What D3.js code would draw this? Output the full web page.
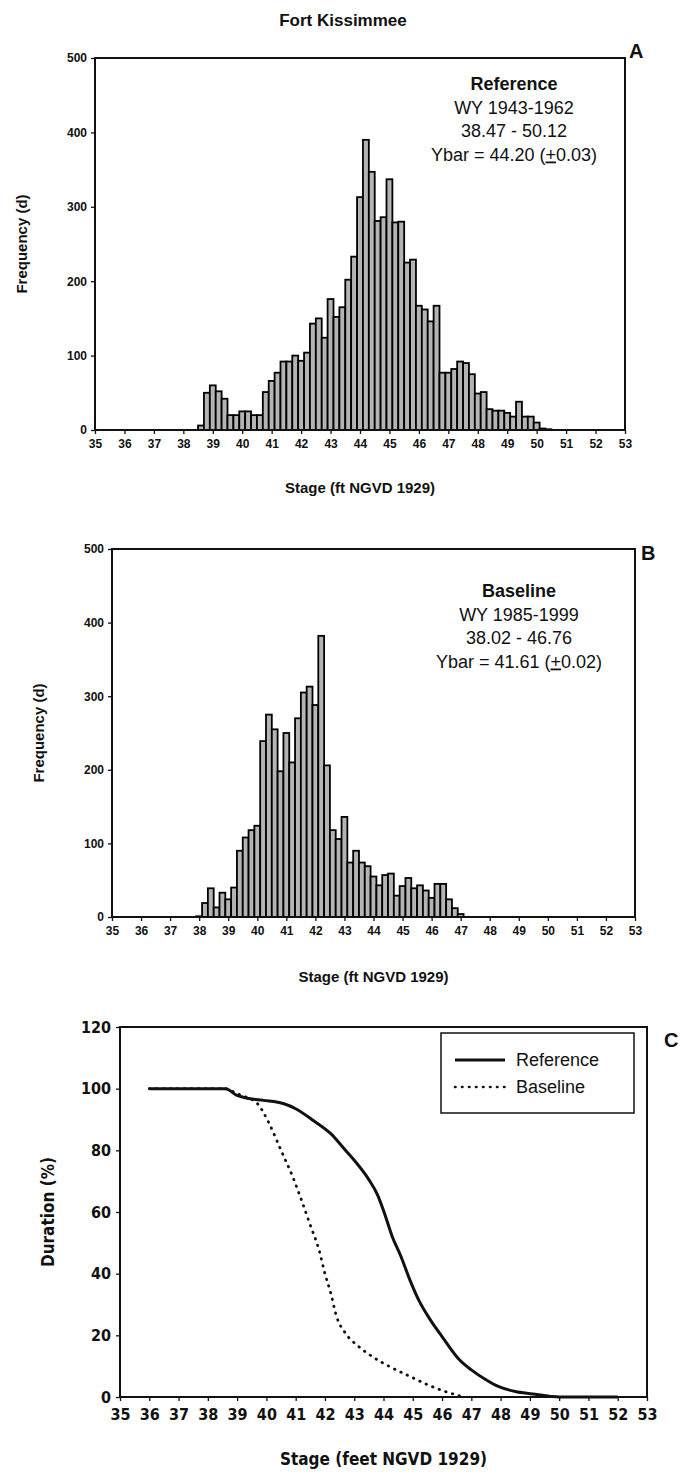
<!DOCTYPE html>
<html>
<head>
<meta charset="utf-8">
<script src="https://cdn.jsdelivr.net/npm/d3@7"></script>
<style>
  body { margin: 0; background: #fff; }
  text { font-family: "Liberation Sans", Arial, sans-serif; fill: #111; }
  .tick text { font-weight: bold; }
  .bar { fill: #b4b4b4; stroke: #000; stroke-width: 1.8; }
</style>
</head>
<body>
<script>
// histogram bins are 0.2 ft wide, left edges listed
const binWidth = 0.2;
const refStart = 38.5;
const refFreq = [6, 50, 60, 52, 42, 20, 20, 25, 25, 20, 20, 51, 66, 77, 92, 92, 100, 93, 104, 143,
  150, 124, 176, 152, 165, 202, 233, 313, 390, 347, 281, 286, 337, 279, 280, 225, 229, 167, 162, 146,
  167, 77, 77, 82, 92, 90, 75, 49, 51, 28, 26, 26, 23, 18, 38, 18, 18, 10, 2, 1];
const baseStart = 37.9;
const baseFreq = [1, 19, 39, 13, 33, 24, 40, 90, 108, 118, 124, 239, 275, 255, 198, 250, 210, 270, 305, 313,
  288, 382, 206, 118, 106, 136, 74, 90, 74, 69, 55, 43, 57, 59, 29, 42, 53, 39, 43, 36,
  26, 45, 45, 24, 12, 4];

// stage duration curves
const refStage = [36, 38.6, 39.0, 39.4, 39.9, 40.6, 41.0, 41.6, 42.2, 42.7, 43.0, 43.5, 43.8, 44.0, 44.3,
  44.6, 44.9, 45.2, 45.6, 46.0, 46.6, 47.0, 47.5, 47.9, 48.5, 49.1, 49.7, 50.0, 52.0];
const refDur = [100, 100, 97.8, 96.8, 96.2, 95.1, 93.5, 89.7, 85.4, 80, 76.8, 70.5, 65.5, 60.5, 52,
  45.5, 38, 31.5, 25, 19.6, 12, 8.8, 5.6, 3.5, 1.8, 1, 0.2, 0, 0];
const baseStage = [36, 38.6, 39.0, 39.3, 39.7, 40.1, 40.5, 40.9, 41.2, 41.5, 41.8, 42.0, 42.2, 42.4, 42.7,
  43.15, 43.6, 44.2, 44.9, 45.5, 46.1, 46.6];
const baseDur = [100, 100, 98.4, 97.3, 95.1, 88.6, 80, 71.4, 63.8, 55.7, 47.6, 40, 33.6, 26, 20.7,
  16.4, 13.2, 9.9, 6.7, 4, 1.8, 0.4];

const stageTicks = d3.range(35, 54);
const freqTicks = [0, 100, 200, 300, 400, 500];
const durTicks = [0, 20, 40, 60, 80, 100, 120];

const notesA = ["Reference", "WY 1943-1962", "38.47 - 50.12", ["Ybar = 44.20 (", "+", "0.03)"]];
const notesB = ["Baseline", "WY 1985-1999", "38.02 - 46.76", ["Ybar = 41.61 (", "+", "0.02)"]];

const width = 686, height = 1475;
const svg = d3.select('body').append('svg')
  .attr('width', width).attr('height', height);

svg.append('text')
  .attr('x', 343).attr('y', 26)
  .attr('text-anchor', 'middle')
  .style('font-weight', 'bold').style('font-size', '17px')
  .text('Fort Kissimmee');

function drawAxes(g, x, y, yTicks, o) {
  let xAxis = g.append('g')
    .attr('transform', `translate(0,${ o.y0 })`)
    .call(d3.axisBottom(x).tickValues(stageTicks).tickSize(4).tickSizeOuter(0).tickPadding(o.xpad));
  xAxis.select('.domain').remove();
  xAxis.selectAll('text').style('font-size', o.tickFont).style('font-family', o.family);

  let yAxis = g.append('g')
    .attr('transform', `translate(${ o.x0 },0)`)
    .call(d3.axisLeft(y).tickValues(yTicks).tickSize(4).tickSizeOuter(0).tickPadding(o.ypad));
  yAxis.select('.domain').remove();
  yAxis.selectAll('text').style('font-size', o.tickFont).style('font-family', o.family);
  g.selectAll('.tick line').attr('stroke', '#111').attr('stroke-width', 1.3);

  // frame
  g.append('rect')
    .attr('x', o.x0).attr('y', o.yTop)
    .attr('width', o.x1 - o.x0).attr('height', o.y0 - o.yTop)
    .attr('fill', 'none').attr('stroke', '#111').attr('stroke-width', 2);

  g.append('text')
    .attr('x', (o.x0 + o.x1) / 2).attr('y', o.xtitleY)
    .attr('text-anchor', 'middle')
    .style('font-weight', 'bold').style('font-size', o.titleFont).style('font-family', o.family)
    .text(o.xtitle);
  g.append('text')
    .attr('transform', `translate(${ o.ytitleX },${ (o.yTop + o.y0) / 2 }) rotate(-90)`)
    .attr('text-anchor', 'middle')
    .style('font-weight', 'bold').style('font-size', o.titleFont).style('font-family', o.family)
    .text(o.ytitle);
  g.append('text')
    .attr('x', o.letterX).attr('y', o.letterY)
    .style('font-weight', 'bold').style('font-size', '20px')
    .text(o.letter);
}

function drawHist(o, start, freq, notes) {
  let g = svg.append('g');
  let x = d3.scaleLinear().domain([35, 53]).range([o.x0, o.x1]);
  let y = d3.scaleLinear().domain([0, 500]).range([o.y0, o.yTop]);
  let bins = freq.map((v, i) => ({ lo: start + i * binWidth, v: v }));

  g.selectAll('rect.bar').data(bins)
    .join('rect')
    .attr('class', 'bar')
    .attr('x', d => x(d.lo))
    .attr('width', x(35 + binWidth) - x(35))
    .attr('y', d => y(d.v))
    .attr('height', d => y(0) - y(d.v));

  drawAxes(g, x, y, freqTicks, o);

  let t = g.append('g').attr('transform', `translate(${ o.noteX },${ o.noteY })`);
  notes.forEach((n, i) => {
    let txt = t.append('text')
      .attr('y', i * 23.5)
      .attr('text-anchor', 'middle')
      .style('font-size', '18px')
      .style('font-weight', i == 0 ? 'bold' : 'normal');
    if (Array.isArray(n)) {
      txt.append('tspan').text(n[0]);
      txt.append('tspan').style('text-decoration', 'underline').text(n[1]);
      txt.append('tspan').text(n[2]);
    } else txt.text(n);
  });
}

drawHist({
  x0: 95, x1: 625, y0: 430, yTop: 58, xpad: 5, ypad: 4, tickFont: '12px', titleFont: '15px',
  family: '"Liberation Sans", Arial, sans-serif',
  xtitle: 'Stage (ft NGVD 1929)', xtitleY: 493, ytitle: 'Frequency (d)', ytitleX: 27,
  letter: 'A', letterX: 629, letterY: 58, noteX: 514, noteY: 90
}, refStart, refFreq, notesA);

drawHist({
  x0: 112, x1: 635, y0: 917, yTop: 549, xpad: 5, ypad: 4, tickFont: '12px', titleFont: '15px',
  family: '"Liberation Sans", Arial, sans-serif',
  xtitle: 'Stage (ft NGVD 1929)', xtitleY: 982, ytitle: 'Frequency (d)', ytitleX: 44,
  letter: 'B', letterX: 641, letterY: 560, noteX: 519, noteY: 597
}, baseStart, baseFreq, notesB);

// panel C: duration curves
let oc = {
  x0: 120, x1: 647, y0: 1397, yTop: 1027, xpad: 8, ypad: 5, tickFont: '16px', titleFont: '17px',
  family: '"Liberation Sans Narrow", "DejaVu Sans Condensed", Arial, sans-serif',
  xtitle: 'Stage (feet NGVD 1929)', xtitleY: 1465, ytitle: 'Duration (%)', ytitleX: 54,
  letter: 'C', letterX: 664, letterY: 1047
};
let gc = svg.append('g');
let xc = d3.scaleLinear().domain([35, 53]).range([oc.x0, oc.x1]);
let yc = d3.scaleLinear().domain([0, 120]).range([oc.y0, oc.yTop]);
drawAxes(gc, xc, yc, durTicks, oc);

let line = d3.line().x(d => xc(d[0])).y(d => yc(d[1])).curve(d3.curveMonotoneX);
gc.append('path')
  .datum(d3.zip(baseStage, baseDur))
  .attr('d', line)
  .attr('fill', 'none').attr('stroke', '#111').attr('stroke-width', 2.8)
  .attr('stroke-linecap', 'round').attr('stroke-dasharray', '0.5 6.5');
gc.append('path')
  .datum(d3.zip(refStage, refDur))
  .attr('d', line)
  .attr('fill', 'none').attr('stroke', '#111').attr('stroke-width', 3);

// legend
let lg = gc.append('g').attr('transform', `translate(441,1033)`);
lg.append('rect').attr('width', 193).attr('height', 80)
  .attr('fill', '#fff').attr('stroke', '#111').attr('stroke-width', 1.5);
lg.append('line').attr('x1', 14).attr('x2', 64).attr('y1', 27).attr('y2', 27)
  .attr('stroke', '#111').attr('stroke-width', 3);
lg.append('line').attr('x1', 14).attr('x2', 64).attr('y1', 54).attr('y2', 54)
  .attr('stroke', '#111').attr('stroke-width', 2.6)
  .attr('stroke-linecap', 'round').attr('stroke-dasharray', '0.5 6.5');
lg.append('text').attr('x', 75).attr('y', 33).style('font-size', '18px').text('Reference');
lg.append('text').attr('x', 75).attr('y', 60).style('font-size', '18px').text('Baseline');
</script>
</body>
</html>
